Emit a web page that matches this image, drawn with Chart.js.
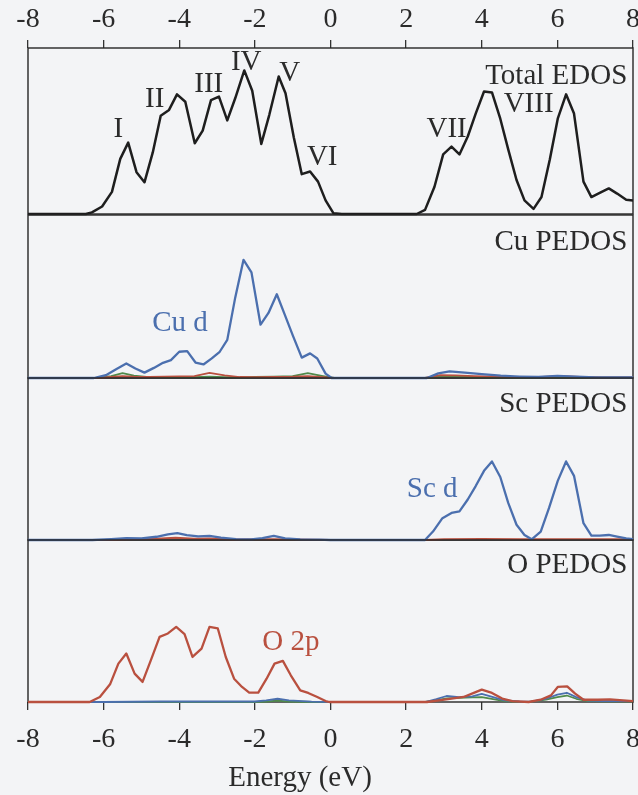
<!DOCTYPE html>
<html>
<head>
<meta charset="utf-8">
<script src="https://cdn.jsdelivr.net/npm/chart.js@4.4.1/dist/chart.umd.min.js"></script>
<style>
  body { margin: 0; background: #f3f4f6; width: 638px; height: 795px; position: relative; overflow: hidden; }
  canvas { position: absolute; left: 0; }
  #xtitle { position: absolute; left: 150px; width: 300px; top: 761px; text-align: center;
            font: 29px "Liberation Serif", serif; line-height: 30px; color: #2b2b2b; }
</style>
</head>
<body>
<canvas id="total" width="660" height="224" style="top:0"></canvas>
<canvas id="cu" width="660" height="183" style="top:205px"></canvas>
<canvas id="sc" width="660" height="182" style="top:368px"></canvas>
<canvas id="ox" width="660" height="265" style="top:530px"></canvas>
<div id="xtitle">Energy (eV)</div>
<script>
// Energy axis ticks
const energyTicks = [-8, -6, -4, -2, 0, 2, 4, 6, 8];

// Total EDOS
const totalE = [-8.00, -6.47, -6.31, -6.04, -5.78, -5.56, -5.35, -5.13, -4.92, -4.70,
  -4.49, -4.27, -4.06, -3.84, -3.59, -3.38, -3.16, -2.95, -2.73, -2.52,
  -2.28, -2.07, -1.83, -1.62, -1.37, -1.19, -0.97, -0.76, -0.54, -0.33,
  -0.13, 0.08, 0.30, 2.28, 2.50, 2.75, 2.98, 3.20, 3.41, 3.63,
  3.84, 4.06, 4.27, 4.49, 4.70, 4.92, 5.13, 5.37, 5.58, 5.80,
  6.01, 6.23, 6.44, 6.69, 6.90, 7.12, 7.36, 7.58, 7.82, 8.00];
const totalDos = [0, 0, 1.0, 4.5, 13.3, 33.2, 43.0, 25.2, 19.1, 37.1,
  59.2, 62.7, 72.1, 67.6, 42.6, 50.2, 68.6, 70.7, 56.4, 69.7,
  86.5, 74.2, 42.2, 59.6, 82.8, 72.7, 46.1, 24.0, 25.6, 19.5,
  8.2, 0.4, 0, 0, 2.5, 16.4, 35.9, 40.6, 35.9, 46.7,
  60.5, 73.8, 73.2, 57.4, 38.9, 20.5, 8.2, 3.1, 10.2, 32.8,
  57.4, 72.1, 60.5, 19.5, 10.2, 12.7, 15.4, 12.3, 8.6, 8.2];
const peakNames = ["I", "II", "III", "IV", "V", "VI", "VII", "VIII"];

// Cu projected DOS
const cuE = [-8, -6.26, -5.94, -5.67, -5.40, -5.16, -4.92, -4.67, -4.43, -4.22,
  -4.00, -3.79, -3.57, -3.36, -3.14, -2.93, -2.73, -2.52, -2.30, -2.09,
  -1.85, -1.64, -1.42, -1.21, -0.99, -0.76, -0.54, -0.35, -0.13, 0.03,
  2.55, 2.85, 3.15, 3.55, 4.0, 4.5, 5.0, 5.5, 6.0, 6.5, 7.0, 8.0];
const cuD = [0, 0, 1.7, 5.4, 8.9, 5.8, 3.3, 6.2, 9.3, 11.0,
  16.1, 16.5, 9.5, 8.3, 12.0, 16.1, 23.4, 49.3, 72.5, 64.8,
  32.7, 39.9, 51.4, 38.9, 25.7, 12.5, 15.1, 12.0, 2.7, 0,
  0, 2.8, 4.1, 3.3, 2.4, 1.4, 0.9, 0.6, 1.3, 0.8, 0.4, 0.3];
const cuMinorE = [-8, -6.2, -5.8, -5.5, -5.2, -4.8, -4.4, -4.0, -3.6, -3.2,
  -2.8, -2.4, -2.0, -1.5, -1.0, -0.6, -0.2, 0.1, 2.5, 2.9,
  3.3, 3.8, 4.4, 5.0, 5.6, 6.1, 6.6, 7.2, 8];
const cuS = [0, 0, 0.6, 1.2, 0.8, 0.6, 0.8, 1.0, 1.2, 3.2,
  1.6, 0.6, 0.5, 0.6, 0.8, 1.2, 0.5, 0, 0, 1.8,
  1.6, 1.2, 0.8, 0.5, 0.6, 1.2, 0.6, 0.3, 0.3];
const cuP = [0, 0, 1.2, 3.0, 1.5, 0.5, 0.5, 0.6, 0.5, 0.8,
  0.5, 0.4, 0.6, 0.8, 1.2, 3.0, 1.2, 0, 0, 1.2,
  1.0, 0.6, 0.4, 0.3, 0.4, 0.6, 0.3, 0.2, 0.2];

// Sc projected DOS
const scE = [-8, -6.3, -5.8, -5.4, -5.0, -4.6, -4.3, -4.05, -3.8, -3.5,
  -3.2, -2.9, -2.5, -2.1, -1.8, -1.5, -1.2, -0.8, -0.3, 0,
  2.5, 2.71, 2.96, 3.20, 3.41, 3.63, 3.84, 4.06, 4.27, 4.49,
  4.70, 4.92, 5.13, 5.32, 5.56, 5.78, 6.01, 6.23, 6.44, 6.69,
  6.90, 7.12, 7.36, 7.58, 7.82, 8.0];
const scD = [0, 0, 0.6, 1.2, 1.0, 2.0, 3.5, 4.3, 3.0, 2.2,
  2.5, 1.5, 0.6, 0.4, 1.2, 2.6, 1.0, 0.4, 0.2, 0,
  0, 5.2, 13.5, 16.7, 17.7, 25.0, 33.3, 42.7, 48.5, 38.9,
  22.9, 9.4, 3.1, 0.4, 5.2, 19.8, 36.5, 48.5, 39.6, 10.4,
  2.7, 2.7, 3.1, 2.1, 1.0, 0.6];
const scMinorE = [-8, -6.0, -5.4, -4.6, -4.1, -3.6, -3.2, -2.6, -1.5, -0.5,
  0, 2.5, 3.0, 4.0, 5.0, 6.0, 7.0, 8];
const scS = [0, 0, 0.4, 0.8, 1.4, 0.8, 1.0, 0.3, 0.6, 0.2,
  0, 0, 0.6, 0.7, 0.5, 0.6, 0.6, 0.5];

// O projected DOS
const oE = [-8, -6.37, -6.10, -5.83, -5.61, -5.40, -5.18, -4.97, -4.75, -4.52,
  -4.30, -4.08, -3.86, -3.65, -3.41, -3.20, -2.98, -2.77, -2.55, -2.34,
  -2.15, -1.91, -1.69, -1.48, -1.26, -1.05, -0.80, -0.59, -0.35, -0.13,
  -0.03, 2.55, 2.87, 3.20, 3.52, 3.79, 4.00, 4.27, 4.54, 4.81,
  5.24, 5.56, 5.83, 6.01, 6.26, 6.47, 6.69, 7.07, 7.39, 8.0];
const o2p = [0, 0, 3.1, 10.9, 23.7, 29.9, 17.5, 12.4, 25.8, 40.2,
  42.3, 46.4, 41.9, 27.8, 33.0, 46.4, 45.4, 27.8, 14.4, 9.3,
  5.8, 5.8, 14.4, 23.7, 25.4, 16.5, 7.2, 5.6, 3.1, 0.6,
  0, 0, 1.0, 2.1, 3.1, 5.6, 7.6, 5.6, 2.1, 0.6,
  0, 1.4, 4.1, 9.3, 9.7, 5.2, 1.4, 1.4, 1.6, 0.6];
const oMinorE = [-8, -6.0, -4.5, -3.5, -2.0, -1.7, -1.4, -1.1, -0.5, 0,
  2.5, 2.8, 3.07, 3.4, 3.75, 4.0, 4.3, 4.6, 5.0, 5.3,
  5.7, 6.0, 6.25, 6.5, 6.8, 7.2, 8];
const o2s = [0, 0, 0.3, 0.3, 0.3, 1.0, 2.0, 1.0, 0.2, 0,
  0, 1.8, 3.7, 3.0, 3.5, 5.0, 3.0, 1.0, 0.3, 0.2,
  2.0, 4.5, 5.7, 3.0, 0.8, 0.6, 0.5];
const oOther = [0, 0, 0, 0, 0, 0.3, 0.8, 0.3, 0, 0,
  0, 1.0, 2.2, 2.5, 2.8, 3.0, 1.8, 0.5, 0.1, 0.2,
  1.5, 3.0, 4.0, 2.0, 0.5, 0.4, 0.4];

const FONT = '"Liberation Serif", serif';
const TEXT = "#2b2b2b";
const BLACK = "#1e1e1e", BLUE = "#4b6fae", RED = "#b9503f", GREEN = "#4f8a4a";
const PAD = { left: 28, right: 27 };

const pts = (xs, ys) => xs.map((x, i) => ({ x: x, y: ys[i] }));
const line = (xs, ys, color, width) => ({
  data: pts(xs, ys), borderColor: color, borderWidth: width || 2.3,
  pointRadius: 0, tension: 0, fill: false, borderJoinStyle: "round", clip: false
});

// box around each panel
const frame = {
  id: "frame",
  beforeDatasetsDraw(chart) {
    const a = chart.chartArea, ctx = chart.ctx;
    ctx.save();
    ctx.strokeStyle = "#262626";
    ctx.lineWidth = 1.4;
    ctx.strokeRect(a.left, a.top, a.right - a.left, a.bottom - a.top);
    ctx.restore();
  }
};

// text placed in data coordinates
const panelText = {
  id: "panelText",
  afterDatasetsDraw(chart, args, opts) {
    const ctx = chart.ctx, x = chart.scales.x, y = chart.scales.y;
    ctx.save();
    ctx.font = "29px " + FONT;
    ctx.textBaseline = "middle";
    (opts.items || []).forEach(t => {
      ctx.fillStyle = t.color || TEXT;
      ctx.textAlign = t.align || "center";
      ctx.fillText(t.text, x.getPixelForValue(t.x), y.getPixelForValue(t.y));
    });
    ctx.restore();
  }
};

function xAxis(where, axisHeight) {
  if (!where) return { type: "linear", min: -8, max: 8, display: false };
  return {
    type: "linear", position: where, min: -8, max: 8,
    afterBuildTicks: s => { s.ticks = energyTicks.map(v => ({ value: v })); },
    afterFit: s => { s.height = axisHeight; },
    ticks: { font: { family: FONT, size: 28 }, color: TEXT, padding: where === "top" ? 4 : 13, maxRotation: 0, autoSkip: false },
    grid: { drawOnChartArea: false, drawTicks: true, tickLength: 8, color: "#333", lineWidth: 1.3 },
    border: { display: false }
  };
}

function panel(id, datasets, items, axisWhere, axisHeight, top, bottom) {
  new Chart(document.getElementById(id), {
    type: "line",
    data: { datasets: datasets },
    options: {
      responsive: false, animation: false, events: [],
      layout: { padding: { top: top, bottom: bottom, left: PAD.left, right: PAD.right } },
      scales: {
        x: xAxis(axisWhere, axisHeight),
        y: { type: "linear", min: 0, max: 100, display: false }
      },
      plugins: { legend: { display: false }, tooltip: { enabled: false }, panelText: { items: items } }
    },
    plugins: [frame, panelText]
  });
}

const totalLabels = [
  { text: peakNames[0], x: -5.61, y: 50.8 },
  { text: peakNames[1], x: -4.65, y: 69.3 },
  { text: peakNames[2], x: -3.22, y: 78.3 },
  { text: peakNames[3], x: -2.23, y: 91.2 },
  { text: peakNames[4], x: -1.08, y: 85.0 },
  { text: peakNames[5], x: -0.22, y: 34.4 },
  { text: peakNames[6], x: 3.07, y: 50.8 },
  { text: peakNames[7], x: 5.24, y: 66.0 },
  { text: "Total EDOS", x: 7.85, y: 83, align: "right" }
];

panel("total", [line(totalE, totalDos, BLACK, 2.5)], totalLabels, "top", 48, 0, 10);

panel("cu", [
  line(cuE, cuD, BLUE),
  line(cuMinorE, cuS, RED, 1.8),
  line(cuMinorE, cuP, GREEN, 1.8)
], [
  { text: "Cu d", x: -3.98, y: 33.7, color: BLUE },
  { text: "Cu PEDOS", x: 7.85, y: 83, align: "right" }
], null, 0, 10, 10);

panel("sc", [
  line(scE, scD, BLUE),
  line(scMinorE, scS, RED, 1.8)
], [
  { text: "Sc d", x: 2.69, y: 31, color: BLUE },
  { text: "Sc PEDOS", x: 7.85, y: 84, align: "right" }
], null, 0, 10, 10);

panel("ox", [
  line(oE, o2p, RED),
  line(oMinorE, o2s, BLUE, 1.8),
  line(oMinorE, oOther, GREEN, 1.8)
], [
  { text: "O 2p", x: -1.05, y: 37, color: RED },
  { text: "O PEDOS", x: 7.85, y: 84.5, align: "right" }
], "bottom", 93, 10, 0);
</script>
</body>
</html>
